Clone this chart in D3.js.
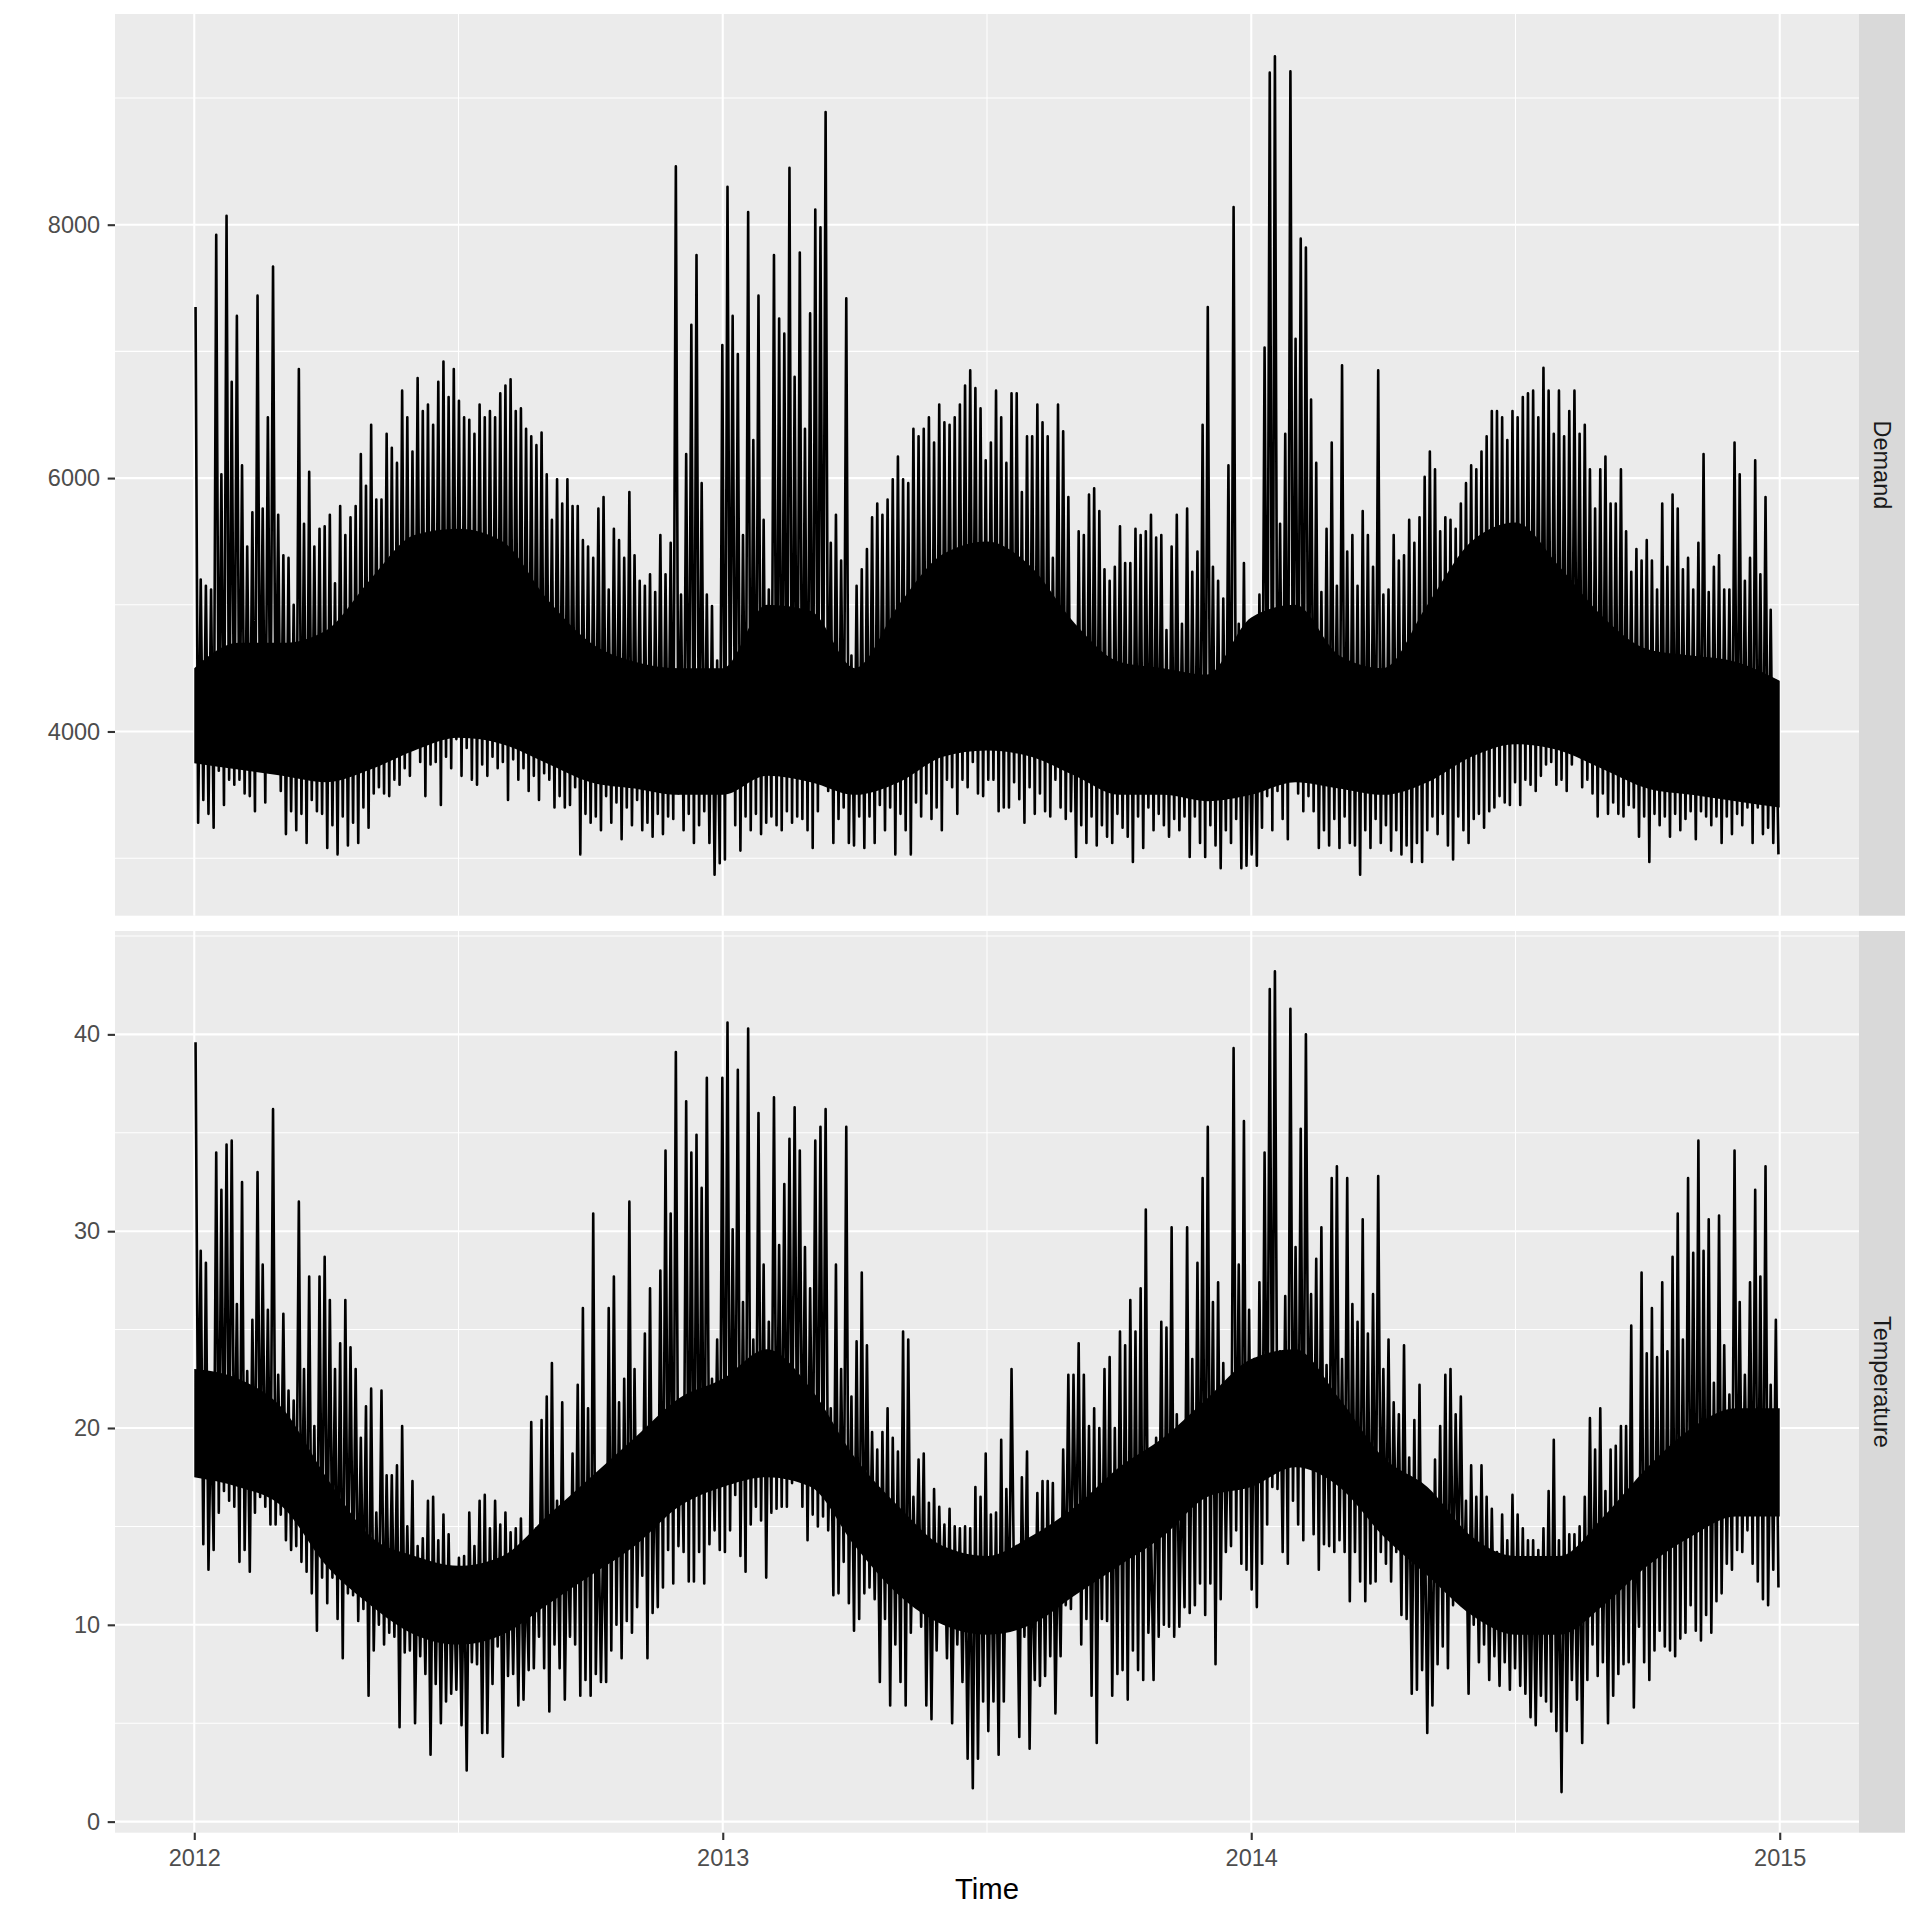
<!DOCTYPE html>
<html><head><meta charset="utf-8">
<script src="https://cdn.jsdelivr.net/npm/d3@7"></script>
<style>body{margin:0;background:#fff;} svg{display:block;}</style>
</head><body>
<svg id="chart" width="1920" height="1920"></svg>
<script>
// ---------------- data ----------------
const startYear = 2012, endYear = 2015;
const facetNames = ["Demand", "Temperature"];
const xTickValues = [2012, 2013, 2014, 2015];
const xMinorValues = [2012.5, 2013.5, 2014.5];
const demandTicks = [4000, 6000, 8000];
const demandMinor = [3000, 5000, 7000, 9000];
const tempTicks = [0, 10, 20, 30, 40];
const tempMinor = [5, 15, 25, 35, 45];
const demandExtent = [2869.5, 9339.5];
const tempExtent = [1.52, 43.17];

// half-weekly peaks (3 years / 307 periods)
const demandHigh = [
7350,5200,5150,5120,7920,6030,8070,6760,7280,6100,
5460,5730,7440,5760,6480,7670,5710,5390,5370,5000,
6860,5640,6050,5460,5600,5620,5710,5170,5780,5550,
5690,5780,6190,5940,6420,5830,5830,6350,6240,6120,
6690,6480,6210,6790,6530,6580,6420,6760,6920,6640,
6860,6610,6480,6460,6350,6580,6480,6530,6480,6670,
6730,6780,6530,6550,6390,6330,6260,6360,6030,5670,
5990,5800,5990,5780,5780,5510,5460,5370,5760,5850,
5120,5600,5510,5370,5890,5390,5190,5150,5240,5100,
5550,5240,5490,8460,5080,6190,7210,7760,5960,5080,
4990,4560,7050,8300,7280,6980,5550,8100,6300,7440,
5670,5120,7760,7260,7140,8450,6800,7780,6390,7300,
8120,7980,8890,5490,5710,5350,7420,4600,5150,5280,
5440,5690,5800,5710,5830,5990,6170,5990,5960,6390,
6330,6390,6480,6280,6580,6440,6420,6480,6580,6730,
6850,6710,6550,6140,
6280,6690,6480,6120,6670,6670,5890,6330,6330,6580,
6440,6330,5370,6580,6370,5850,4620,5580,5550,5870,
5920,5740,5280,5190,5300,5620,5330,5330,5600,5550,
5580,5710,5530,5550,4800,5460,5710,4850,5760,5260,
5420,6420,7350,5300,5190,5050,6100,8140,4850,5330,
4400,4580,5080,7030,9200,9330,5640,6350,9210,7100,
7890,7820,6620,6120,5100,5600,6280,5150,6890,5420,
5550,5150,5740,5550,5300,6850,5080,5120,5550,5350,
5390,5670,5490,5690,6010,6210,6070,5580,5690,5670,
5600,5800,5960,6100,6070,6210,6330,6530,6530,6480,
6300,6530,6480,6640,6670,6690,6480,6870,6690,6350,
6690,6330,6530,6690,6350,6420,6070,5760,6070,6170,
5800,5800,6070,5580,5260,5440,5350,5510,5350,5120,
5800,5300,5870,5760,5280,5370,5120,5490,6190,5100,
5300,5390,5120,5120,6280,6030,5190,5370,6140,5240,
5850,4960,4400];

// half-weekly troughs
const demandLow = [
3280,3460,3350,3240,3690,3420,3620,3580,3620,3510,
3490,3370,3760,3440,3690,3760,3530,3190,3370,3220,
3350,3120,3460,3370,3350,3080,3260,3030,3330,3100,
3280,3120,3400,3240,3510,3560,3510,3490,3620,3580,
3710,3650,3870,3760,3490,3740,3760,3420,3800,3710,
3940,3650,3870,3620,3580,3740,3650,3800,3710,3760,
3460,3780,3620,3710,3530,3650,3460,3670,3620,3400,
3490,3400,3420,3560,3030,3350,3280,3330,3220,3490,
3280,3440,3150,3400,3260,3460,3220,3280,3170,3350,
3190,3330,3310,3510,3220,3350,3120,3260,3370,3120,
2870,2960,2990,3760,3260,3060,3330,3220,3350,3190,
3280,3330,3260,3220,3370,3280,3330,3310,3220,3080,
3370,3760,3530,3120,3310,3400,3120,3100,3330,3080,
3330,3120,3420,3220,3400,3030,3350,3220,3030,3440,
3330,3510,3310,3400,3220,3620,3560,3350,3620,3560,
3760,3510,3490,3620,
3620,3370,3400,3400,3600,3465,3280,3560,3350,3510,
3370,3330,3620,3400,3310,3370,3010,3260,3120,3330,
3100,3260,3170,3120,3350,3240,3170,2970,3330,3080,
3400,3220,3350,3260,3170,3310,3220,3330,3010,3330,
3120,3010,3260,3100,2920,3220,3120,3310,2920,2940,
3030,2940,3240,3490,3220,3530,3310,3150,3760,3510,
3370,3490,3370,3080,3220,3100,3310,3080,3330,3120,
3100,2870,3220,3080,3310,3120,3260,3060,3220,3030,
3100,2970,3120,2970,3220,3330,3190,3350,3100,2990,
3330,3220,3120,3310,3350,3240,3370,3400,3490,3440,
3420,3600,3420,3620,3580,3530,3650,3740,3760,3580,
3620,3530,3740,3850,3560,3620,3510,3330,3510,3350,
3440,3350,3330,3420,3400,3170,3330,2970,3350,3260,
3330,3170,3350,3220,3310,3370,3150,3370,3330,3260,
3330,3120,3330,3190,3350,3260,3400,3120,3400,3190,
3240,3120,3030];

const temperatureHigh = [
39.6,29.0,28.4,21.0,34.0,32.1,34.4,34.6,26.3,32.5,
22.9,25.5,33.0,28.3,26.0,36.2,22.7,25.8,21.9,21.4,
31.5,23.0,27.7,20.1,27.7,28.7,26.5,23.0,24.3,26.5,
24.1,23.0,19.5,21.1,22.0,15.7,21.9,17.6,17.6,18.1,
20.1,15.0,17.3,14.0,14.4,16.3,16.5,14.3,15.6,14.6,
12.5,13.4,13.5,15.7,14.0,16.3,16.6,14.9,16.3,15.1,
15.7,14.7,14.9,15.4,13.2,20.3,14.9,20.4,21.6,23.3,
16.3,21.3,16.2,18.7,22.2,26.1,21.0,30.9,15.6,15.7,
26.1,27.7,21.3,22.5,31.5,23.0,19.4,24.8,27.1,19.2,
28.0,34.1,30.9,39.1,21.0,36.6,34.0,34.9,32.2,37.8,
22.5,24.5,37.8,40.6,30.1,38.2,26.4,40.3,24.5,36.0,
28.3,25.4,36.8,29.3,32.4,34.7,36.3,34.1,29.2,27.1,
34.6,35.3,36.2,21.0,28.3,23.0,35.3,21.6,24.4,27.9,
24.2,19.8,18.9,19.8,21.0,19.5,18.8,24.9,24.5,16.5,
18.4,18.7,16.2,16.9,16.0,15.1,15.9,15.0,14.9,15.0,
14.9,17.0,16.5,18.7,
15.6,15.7,19.4,16.9,23.0,14.0,17.5,18.8,14.0,16.7,
17.3,17.3,17.2,14.9,18.9,22.7,22.7,24.3,22.7,20.1,
21.0,20.0,23.0,23.6,20.0,24.9,24.2,26.5,24.9,27.1,
31.1,14.9,19.5,25.4,25.1,30.2,20.7,18.5,30.2,23.5,
28.4,32.7,35.3,26.4,27.4,23.3,21.3,39.3,28.3,35.6,
26.0,23.5,27.4,34.0,42.3,43.2,23.9,26.7,41.3,29.2,
35.2,40.0,26.8,28.6,30.2,23.2,32.7,33.3,23.5,32.7,
26.3,25.4,30.6,24.8,26.8,32.8,23.0,24.5,21.3,20.7,
24.2,18.5,20.4,22.2,16.8,16.3,18.4,20.1,22.7,23.0,
20.7,21.6,16.3,18.1,16.5,18.1,16.5,15.9,13.7,15.6,
14.3,16.6,15.6,14.9,14.3,14.3,13.8,14.9,16.8,19.4,
14.3,16.5,14.6,14.6,15.0,16.5,20.5,18.9,21.0,16.8,
18.9,19.1,20.1,20.1,25.2,16.0,27.9,23.8,26.1,23.6,
27.4,23.9,28.7,30.9,24.5,32.7,28.9,34.6,29.0,30.6,
22.3,30.8,24.2,21.7,34.1,26.4,22.7,27.4,32.1,27.7,
33.3,22.2,25.5];

const temperatureLow = [
18.5,14.1,12.8,13.8,15.7,16.8,16.3,16.0,13.2,13.8,
12.7,15.7,16.5,16.0,15.1,15.1,15.6,14.3,13.8,14.0,
13.2,12.7,11.6,9.7,12.4,11.1,12.4,10.3,8.3,11.6,
11.5,10.2,10.8,6.4,8.7,10.0,9.0,9.6,9.4,4.8,
8.6,8.7,5.0,8.4,7.5,3.4,7.0,5.0,6.1,6.5,
6.7,4.9,2.6,8.1,8.0,4.5,4.5,7.0,8.9,3.3,
7.4,7.5,5.9,6.2,7.7,7.8,9.4,7.8,5.6,9.0,
7.8,6.2,9.4,9.0,6.4,7.2,6.4,7.5,7.1,7.1,
8.7,10.0,8.3,10.2,9.6,10.9,12.5,8.3,10.6,10.9,
11.9,13.8,12.1,14.0,13.7,12.2,12.2,13.7,12.1,14.1,
14.8,13.8,13.7,14.8,16.6,13.5,12.7,15.1,16.0,15.3,
12.4,15.7,15.9,16.0,16.0,17.2,17.8,16.0,14.3,15.6,
15.0,15.5,14.8,11.5,11.6,13.2,11.1,9.7,10.3,11.6,
11.9,11.3,7.1,10.3,5.9,9.0,7.1,5.9,9.6,11.1,
9.9,5.9,5.2,8.7,10.2,8.3,5.0,9.0,7.1,3.2,
1.7,3.2,6.1,4.6,
6.1,3.4,6.1,9.7,11.6,4.3,9.4,3.7,7.2,6.9,
7.4,8.4,5.5,8.4,11.0,10.8,12.4,9.0,10.3,6.4,
4.0,10.3,10.2,6.4,7.5,7.7,6.2,8.7,7.7,7.2,
9.6,7.2,9.4,10.0,9.9,9.4,9.9,10.9,10.6,11.0,
12.1,10.5,12.1,8.0,11.3,13.7,14.0,14.8,13.1,12.8,
11.8,10.9,13.1,15.1,17.0,16.9,13.7,13.1,16.3,15.1,
14.3,18.5,14.6,12.8,14.1,14.0,13.7,14.3,13.7,11.2,
13.7,12.2,11.2,12.1,12.2,13.7,13.1,12.2,13.7,10.5,
10.3,6.5,6.7,7.7,4.5,5.9,8.0,8.9,7.8,11.0,
12.5,11.0,6.5,10.0,8.1,9.0,7.2,8.4,6.9,8.1,
6.7,7.8,6.9,6.5,5.3,4.9,6.4,6.1,5.6,4.6,
1.5,4.6,7.2,6.2,4.0,7.2,9.0,7.4,8.1,5.0,
6.4,7.5,8.0,8.1,5.8,9.9,8.1,7.2,8.7,9.7,
8.9,8.7,8.4,9.3,9.6,11.0,9.7,9.2,10.5,9.6,
11.2,11.6,13.1,12.8,13.8,13.7,14.8,13.1,12.2,11.3,
11.0,12.8,11.9];

// monthly dense band (typical daily range), Jan 2012 .. Jan 2015
const demandCoreLow = [3750,3700,3650,3600,3700,3850,3950,3900,3750,3600,3550,3500,
  3500,3650,3600,3500,3600,3800,3850,3800,3650,3500,3500,3450,
  3500,3600,3550,3500,3600,3800,3900,3850,3700,3550,3500,3450,3400];
const demandCoreHigh = [4500,4700,4700,4800,5200,5550,5600,5500,5050,4700,4550,4500,
  4500,5000,4950,4500,5000,5400,5500,5300,4850,4550,4500,4450,
  4900,5000,4600,4500,5000,5500,5650,5300,4900,4650,4600,4550,4400];
const temperatureCoreLow = [17.5,17,16,13,11,9.5,9,9.5,11,12.5,14,16,
  17,17.5,17,14,11.5,10,9.5,10,11.5,13,14.5,16.5,
  17,18,17,14.5,12.5,10.5,9.5,9.5,11,13,14.5,15.5,15.5];
const temperatureCoreHigh = [23,22.5,21,17.5,14.5,13.5,13,13.5,15.5,17.5,19.5,21.5,
  22.5,24,22,18.5,16,14,13.5,14.5,16,18,19.5,21.5,
  23.5,24,21.5,18.5,17,14.5,13.5,13.5,15.5,18,20,21,21];

// ---------------- drawing ----------------
const FONT = "'Liberation Sans', Arial, Helvetica, sans-serif";
const svg = d3.select("#chart");
svg.append("rect").attr("width",1920).attr("height",1920).attr("fill","#ffffff");

const panelLeft = 115, panelRight = 1859, stripW = 46;
const pad = (e) => { const r = e[1]-e[0]; return [e[0]-0.05*r, e[1]+0.05*r]; };
const xr = endYear - startYear;
const x = d3.scaleLinear().domain([startYear-0.05*xr, endYear+0.05*xr]).range([panelLeft, panelRight]);

const panels = [
  {name: facetNames[0], top: 14, bottom: 915.7, ext: demandExtent, major: demandTicks, minor: demandMinor,
   hi: demandHigh, lo: demandLow, cLo: demandCoreLow, cHi: demandCoreHigh},
  {name: facetNames[1], top: 931, bottom: 1832.7, ext: tempExtent, major: tempTicks, minor: tempMinor,
   hi: temperatureHigh, lo: temperatureLow, cLo: temperatureCoreLow, cHi: temperatureCoreHigh}
];

panels.forEach(p => {
  const y = d3.scaleLinear().domain(pad(p.ext)).range([p.bottom, p.top]);
  const g = svg.append("g");
  g.append("rect").attr("x",panelLeft).attr("y",p.top).attr("width",panelRight-panelLeft)
    .attr("height",p.bottom-p.top).attr("fill","#EBEBEB");
  // minor grid
  g.selectAll(null).data(p.minor.filter(v => y(v) >= p.top && y(v) <= p.bottom)).join("line")
    .attr("x1",panelLeft).attr("x2",panelRight).attr("y1",d=>y(d)).attr("y2",d=>y(d))
    .attr("stroke","#ffffff").attr("stroke-width",1.05);
  g.selectAll(null).data(xMinorValues).join("line")
    .attr("x1",d=>x(d)).attr("x2",d=>x(d)).attr("y1",p.top).attr("y2",p.bottom)
    .attr("stroke","#ffffff").attr("stroke-width",1.05);
  // major grid
  g.selectAll(null).data(p.major).join("line")
    .attr("x1",panelLeft).attr("x2",panelRight).attr("y1",d=>y(d)).attr("y2",d=>y(d))
    .attr("stroke","#ffffff").attr("stroke-width",2.1);
  g.selectAll(null).data(xTickValues).join("line")
    .attr("x1",d=>x(d)).attr("x2",d=>x(d)).attr("y1",p.top).attr("y2",p.bottom)
    .attr("stroke","#ffffff").attr("stroke-width",2.1);

  // dense band
  const core = p.cLo.map((lo,m) => ({t: startYear + m/12, lo: lo, hi: p.cHi[m]}));
  g.append("path").datum(core)
    .attr("d", d3.area().x(d=>x(d.t)).y0(d=>y(d.lo)).y1(d=>y(d.hi)).curve(d3.curveMonotoneX))
    .attr("fill","#000000");

  // series line
  const n = p.hi.length, step = xr / n;
  const pts = [];
  p.hi.forEach((h,i) => {
    pts.push({t: startYear + (i+0.25)*step, v: h});
    pts.push({t: startYear + (i+0.75)*step, v: p.lo[i]});
  });
  g.append("path").datum(pts)
    .attr("d", d3.line().x(d=>x(d.t)).y(d=>y(d.v)))
    .attr("fill","none").attr("stroke","#000000").attr("stroke-width",2.6)
    .attr("stroke-linejoin","round");

  // y axis
  const ax = g.append("g").attr("transform",`translate(${panelLeft},0)`)
    .call(d3.axisLeft(y).tickValues(p.major).tickSize(7.3).tickPadding(7.6).tickFormat(d3.format("d")));
  ax.select(".domain").remove();
  ax.attr("font-size",23.5).attr("font-family",FONT);
  ax.selectAll(".tick line").attr("stroke","#333333").attr("stroke-width",2.1);
  ax.selectAll(".tick text").attr("fill","#4D4D4D");

  // strip
  g.append("rect").attr("x",panelRight).attr("y",p.top).attr("width",stripW)
    .attr("height",p.bottom-p.top).attr("fill","#D9D9D9");
  g.append("text").attr("transform",`translate(${panelRight+stripW/2},${(p.top+p.bottom)/2}) rotate(90)`)
    .attr("text-anchor","middle").attr("dominant-baseline","central")
    .attr("font-family",FONT).attr("font-size",23.5).attr("fill","#1A1A1A").text(p.name);

  if (p === panels[1]) {
    const bx = svg.append("g").attr("transform",`translate(0,${p.bottom})`)
      .call(d3.axisBottom(x).tickValues(xTickValues).tickSize(7.3).tickPadding(9).tickFormat(d3.format("d")));
    bx.select(".domain").remove();
    bx.attr("font-size",23.5).attr("font-family",FONT);
    bx.selectAll(".tick line").attr("stroke","#333333").attr("stroke-width",2.1);
    bx.selectAll(".tick text").attr("fill","#4D4D4D");
  }
});

svg.append("text").attr("x",(panelLeft+panelRight)/2).attr("y",1899)
  .attr("text-anchor","middle").attr("font-family",FONT).attr("font-size",29.3)
  .attr("fill","#000000").text("Time");
</script>
</body></html>
